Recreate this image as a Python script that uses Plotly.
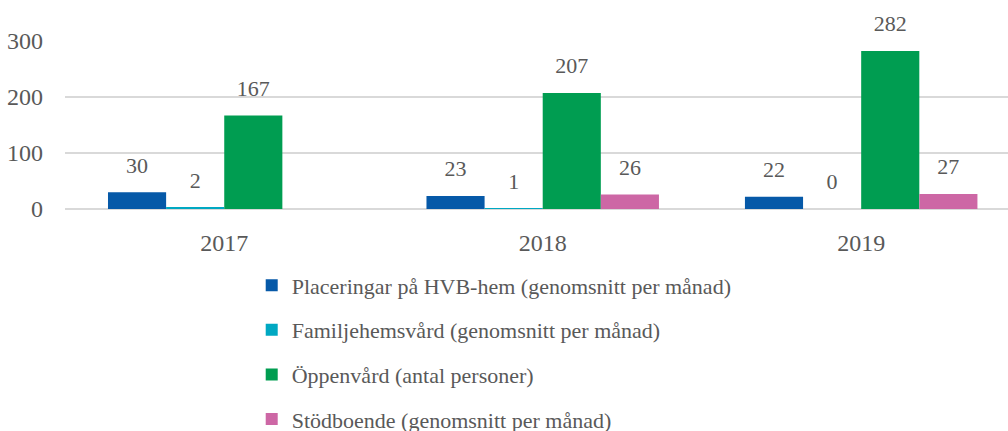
import plotly.graph_objects as go

years = ["2017", "2018", "2019"]
series_names = [
    "Placeringar på HVB-hem (genomsnitt per månad)",
    "Familjehemsvård (genomsnitt per månad)",
    "Öppenvård (antal personer)",
    "Stödboende (genomsnitt per månad)",
]
hvb = [30, 23, 22]
familjehem = [2, 1, 0]
oppenvard = [167, 207, 282]
stodboende = [None, 26, 27]
colors = ["#0659A8", "#00A8C2", "#009D51", "#CD67A5"]

all_values = [hvb, familjehem, oppenvard, stodboende]
FONT = "Liberation Serif, Times New Roman, serif"
TXT = "#595959"

fig = go.Figure()
for i, (name, vals, col) in enumerate(zip(series_names, all_values, colors)):
    fig.add_trace(go.Bar(
        x=years, y=vals, name=name, marker_color=col, marker_line_width=0,
        legendgroup=f"g{i}", offsetgroup=str(i),
    ))
for i, vals in enumerate(all_values):
    fig.add_trace(go.Scatter(
        x=years, y=vals, mode="markers+text",
        text=[("" if v is None else str(v)) for v in vals],
        textposition="top center",
        textfont=dict(family=FONT, size=22, color=TXT),
        marker=dict(size=21, opacity=0),
        showlegend=False, hoverinfo="skip", cliponaxis=False,
        offsetgroup=str(i),
    ))

fig.update_layout(
    width=1008, height=431,
    margin=dict(l=65, r=0, t=41, b=222, autoexpand=False),
    barmode="group", bargap=0.27, bargroupgap=0,
    scattermode="group", scattergap=0.27,
    plot_bgcolor="white", paper_bgcolor="white",
    font=dict(family=FONT, size=22, color=TXT),
    showlegend=True,
    legend=dict(
        orientation="v", x=0.198, xanchor="left", y=-0.33, yanchor="top",
        font=dict(family=FONT, size=22, color=TXT),
        traceorder="grouped", tracegroupgap=13,
        bgcolor="rgba(0,0,0,0)",
    ),
    xaxis=dict(
        type="category", range=[-0.5, 2.461], showgrid=False,
        showline=False, ticks="", ticklabelstandoff=17,
        tickfont=dict(family=FONT, size=24, color=TXT),
    ),
    yaxis=dict(
        range=[0, 300], tickvals=[0, 100, 200, 300],
        showgrid=True, gridcolor="#D9D9D9", gridwidth=1.5,
        zeroline=True, zerolinecolor="#D9D9D9", zerolinewidth=1.5,
        showline=False, ticks="", ticklabelstandoff=21,
        tickfont=dict(family=FONT, size=24, color=TXT),
    ),
)

fig.write_html("out.html", config={"displayModeBar": False},
               post_script="document.body.style.margin='0';")
